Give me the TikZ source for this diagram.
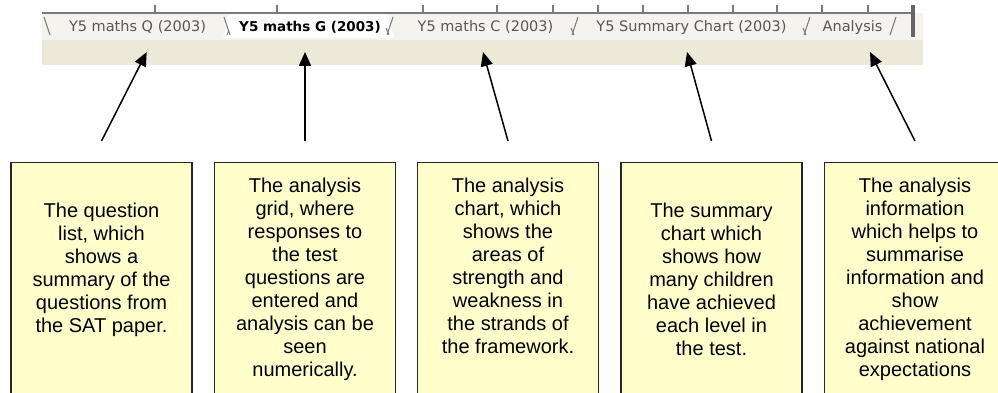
\documentclass[tikz,border=0pt]{standalone}
\usepackage{fontspec}
\setmainfont{Liberation Sans}
\newfontfamily\tabfont{DejaVu Sans}
\usetikzlibrary{arrows.meta}

\definecolor{notefill}{HTML}{FFFFCC}
\definecolor{barbeige}{HTML}{ECE9D8}
\definecolor{tabrow}{HTML}{F4F3EE}
\definecolor{tabtext}{HTML}{575757}
\definecolor{rulegray}{HTML}{7A7A7A}

\begin{document}
\begin{tikzpicture}[x=1pt,y=-1pt,
  notebox/.style={draw=black!85, line width=1.4pt, fill=notefill,
    minimum width=181pt, minimum height=260pt, anchor=north, inner sep=0pt},
  notetext/.style={align=center, font=\fontsize{20}{23}\selectfont,
    anchor=north, inner sep=0pt},
  tablabel/.style={font=\tabfont\fontsize{14.5}{16}\selectfont, text=tabtext,
    anchor=base, inner sep=0pt},
  activetab/.style={font=\tabfont\bfseries\fontsize{13.5}{16}\selectfont,
    text=black, anchor=base, inner sep=0pt},
  pointer/.style={line width=1.5pt, -{Triangle[length=14pt,width=12pt]}},
  tabedge/.style={draw=rulegray, line width=1pt},
  tick/.style={draw=rulegray, line width=1.2pt}
]
\useasboundingbox (0,0) rectangle (998,393);
\clip (0,0) rectangle (998,393);
\fill[white] (0,0) rectangle (998,393);

% worksheet tab bar
\fill[barbeige] (42,13) rectangle (923,65);
\fill[tabrow] (42,13) rectangle (923,40);
\fill[white] (229,14) -- (388,14) -- (394,38) -- (223,38) -- cycle;
\draw[rulegray, line width=1.5pt] (42,13) -- (913,13);
\foreach \tx in {155,277,423,497,553,598,643,688,733,777,822,868}
  \draw[tick] (\tx,5) -- (\tx,13);
\fill[gray!80!black] (911,5) rectangle (915,37);

% tab edges
\draw[tabedge] (44,17) -- (50,35);
\draw[tabedge] (224,17) -- (230,35);
\draw[tabedge] (227,35) -- (229,30);
\draw[tabedge] (393,17) -- (387,35);
\draw[tabedge] (386,28) -- (389,35);
\draw[tabedge] (578,17) -- (572,35);
\draw[tabedge] (571,28) -- (574,35);
\draw[tabedge] (810,17) -- (804,35);
\draw[tabedge] (803,28) -- (806,35);
\draw[tabedge] (896,17) -- (890,35);

% tab names
\node[tablabel] (tabQ) at (137.5,32) {Y5 maths Q (2003)};
\node[activetab] (tabG) at (310,32) {Y5 maths G (2003)};
\node[tablabel] (tabC) at (485.5,32) {Y5 maths C (2003)};
\node[tablabel] (tabS) at (691.5,32) {Y5 Summary Chart (2003)};
\node[tablabel] (tabA) at (852.5,32) {Analysis};

% arrow targets on the tab bar
\coordinate (tip1) at (146.7,52);
\coordinate (tip2) at (305,52);
\coordinate (tip3) at (483,52);
\coordinate (tip4) at (687,52);
\coordinate (tip5) at (870,52);

% note boxes (running off the lower edge)
\node[notebox] (b1) at (101.5,162) {};
\node[notebox] (b2) at (305,162) {};
\node[notebox] (b3) at (508,162) {};
\node[notebox] (b4) at (711.5,162) {};
\node[notebox] (b5) at (915,162) {};

% note texts
\node[notetext] (t1) at (101.5,202.4) {The question\\list, which\\shows a\\summary of the\\questions from\\the SAT paper.};
\node[notetext] (t2) at (305,177.4) {The analysis\\grid, where\\responses to\\the test\\questions are\\entered and\\analysis can be\\seen\\numerically.};
\node[notetext] (t3) at (508,177.4) {The analysis\\chart, which\\shows the\\areas of\\strength and\\weakness in\\the strands of\\the framework.};
\node[notetext] (t4) at (711.5,202.4) {The summary\\chart which\\shows how\\many children\\have achieved\\each level in\\the test.};
\node[notetext] (t5) at (915,177.4) {The analysis\\information\\which helps to\\summarise\\information and\\show\\achievement\\against national\\expectations};

% pointers
\draw[pointer] ([yshift=21pt]b1.north) -- (tip1);
\draw[pointer] ([yshift=21pt]b2.north) -- (tip2);
\draw[pointer] ([yshift=21pt]b3.north) -- (tip3);
\draw[pointer] ([yshift=21pt]b4.north) -- (tip4);
\draw[pointer] ([yshift=21pt]b5.north) -- (tip5);
\end{tikzpicture}
\end{document}
